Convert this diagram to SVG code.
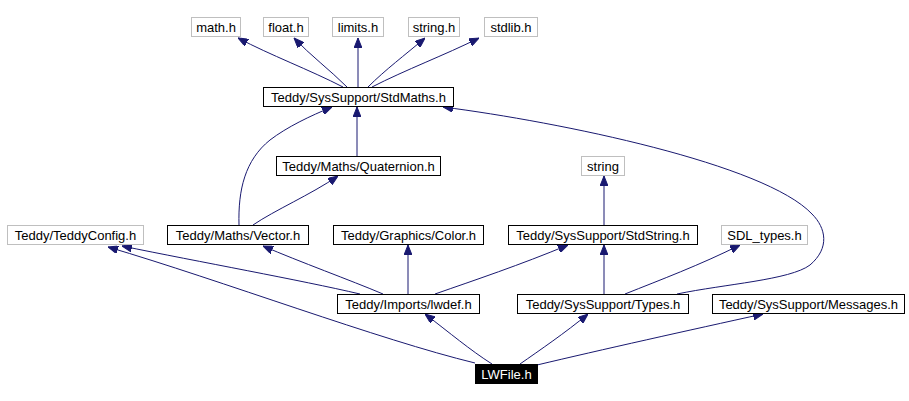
<svg xmlns="http://www.w3.org/2000/svg" width="909" height="401" viewBox="0 0 909 401">
<style>
.n rect{fill:#fff;stroke:#000;stroke-width:1}
.g rect{fill:#fff;stroke:#bfbfbf;stroke-width:1}
text{font-family:"Liberation Sans",Arial,sans-serif;font-size:13px;text-anchor:middle;fill:#000}
.root rect{fill:#000;stroke:#000}
.root text{fill:#fff}
.e path{fill:none;stroke:#191970;stroke-width:1;marker-end:url(#ah)}
</style>
<defs>
<marker id="ah" viewBox="0 0 10 8" refX="10" refY="4" markerWidth="10" markerHeight="8" markerUnits="userSpaceOnUse" orient="auto">
<path d="M0,0 L10,4 L0,8 Z" fill="#191970" stroke="#191970"/>
</marker>
</defs>
<rect width="909" height="401" fill="#fff"/>
<g class="e">
<path d="M343,87 C310,70 270,55 238,38"/>
<path d="M347,87 C330,70 310,55 294,38"/>
<path d="M358,87 L358,38"/>
<path d="M368,87 C385,70 405,55 425,38"/>
<path d="M372,87 C405,70 445,55 479,38"/>
<path d="M357,156 L357,107"/>
<path d="M239,225 C238,190 245,160 270,140 C287,127 310,116 332,107"/>
<path d="M253,225 C275,210 310,195 338,176"/>
<path d="M677,294 C725,284 790,280 810,265 C830,248 826,228 812,214 C765,164 560,122 443,107"/>
<path d="M604,225 L604,176"/>
<path d="M360,294 C300,280 200,262 122,246"/>
<path d="M383,294 C350,280 300,262 263,246"/>
<path d="M408,294 L408,245"/>
<path d="M435,294 C475,280 520,265 568,245"/>
<path d="M604,294 L604,245"/>
<path d="M625,294 C660,280 700,265 740,245"/>
<path d="M475,363 C380,340 220,280 108,247"/>
<path d="M492,364 C470,350 450,333 425,314"/>
<path d="M520,364 C540,350 565,333 588,314"/>
<path d="M537,365 C600,350 690,330 763,314"/>
</g>
<g id="math" class="g"><rect x="191.5" y="17.5" width="49" height="19"/><text x="216" y="32">math.h</text></g>
<g id="float" class="g"><rect x="263.5" y="17.5" width="45" height="19"/><text x="286" y="32">float.h</text></g>
<g id="limits" class="g"><rect x="332.5" y="17.5" width="51" height="19"/><text x="358" y="32">limits.h</text></g>
<g id="stringh" class="g"><rect x="408.5" y="17.5" width="51" height="19"/><text x="434" y="32">string.h</text></g>
<g id="stdlib" class="g"><rect x="484.5" y="17.5" width="53" height="19"/><text x="511" y="32">stdlib.h</text></g>
<g id="stdmaths" class="n"><rect x="263.5" y="87.5" width="190" height="19"/><text x="358.5" y="102">Teddy/SysSupport/StdMaths.h</text></g>
<g id="quaternion" class="n"><rect x="276.5" y="156.5" width="164" height="19"/><text x="358.5" y="171">Teddy/Maths/Quaternion.h</text></g>
<g id="string" class="g"><rect x="581.5" y="156.5" width="43" height="19"/><text x="603" y="171">string</text></g>
<g id="teddyconfig" class="g"><rect x="7.5" y="225.5" width="136" height="19"/><text x="75.5" y="240">Teddy/TeddyConfig.h</text></g>
<g id="vector" class="n"><rect x="167.5" y="225.5" width="141" height="19"/><text x="238" y="240">Teddy/Maths/Vector.h</text></g>
<g id="color" class="n"><rect x="333.5" y="225.5" width="150" height="19"/><text x="408.5" y="240">Teddy/Graphics/Color.h</text></g>
<g id="stdstring" class="n"><rect x="508.5" y="225.5" width="189" height="19"/><text x="603" y="240">Teddy/SysSupport/StdString.h</text></g>
<g id="sdltypes" class="g"><rect x="721.5" y="225.5" width="86" height="19"/><text x="764.5" y="240">SDL_types.h</text></g>
<g id="lwdef" class="n"><rect x="337.5" y="294.5" width="142" height="19"/><text x="408.5" y="309">Teddy/Imports/lwdef.h</text></g>
<g id="types" class="n"><rect x="517.5" y="294.5" width="171" height="19"/><text x="603" y="309">Teddy/SysSupport/Types.h</text></g>
<g id="messages" class="n"><rect x="712.5" y="294.5" width="192" height="19"/><text x="808.5" y="309">Teddy/SysSupport/Messages.h</text></g>
<g id="lwfile" class="root"><rect x="475.5" y="364.5" width="62" height="19"/><text x="506.5" y="379">LWFile.h</text></g>
</svg>
